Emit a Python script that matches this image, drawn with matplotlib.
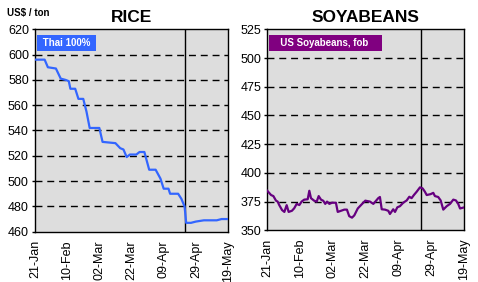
import matplotlib
matplotlib.use("Agg")
import matplotlib.pyplot as plt

plt.rcParams['font.family'] = ['Liberation Sans', 'DejaVu Sans']

tick_labels = ["21-Jan", "10-Feb", "02-Mar", "22-Mar", "09-Apr", "29-Apr", "19-May"]
tick_days = [0, 20, 40, 60, 80, 100, 120]
marker_day = 93.5

rice_day = [0, 6, 8, 13, 16, 19, 21, 22, 25, 27, 30, 32, 34, 40, 42, 50, 53, 55, 57, 59,
            63, 65, 68, 71, 75, 78, 80, 83, 84, 89, 91, 93, 94, 97, 100, 105, 110, 113, 116, 120]
rice_price = [596, 596, 590, 589, 581, 580, 579, 573, 573, 565, 565, 555, 542, 542, 531, 530, 526, 525, 519, 521,
              521, 523, 523, 509, 509, 502, 494, 494, 490, 490, 486, 480, 467, 467, 468, 469, 469, 469, 470, 470]

soy_day = [0, 2.3, 3.7, 5.3, 6.3, 7.3, 9, 10.4, 11.8, 13, 15, 16.4, 17.9, 19.5, 20.9, 22.5, 24.6, 25.6, 26.6, 28.6,
           30.1, 31.3, 32.7, 34.1, 35.3, 36.4, 37.8, 39.4, 41.8, 42.9, 44.9, 46.9, 48.5, 49.9, 51.6, 53, 55.1, 57.1,
           59.7, 62.5, 64.6, 67.6, 68.6, 69.7, 71.7, 73.7, 74.7, 76.7, 77.8, 79.2, 80.8, 82.8, 84.9, 86.5, 87.9, 89.3,
           91, 93, 94.6, 96, 97.1, 99.5, 101.1, 102.1, 104.1, 105.6, 107.2, 109.3, 111.3, 113.3, 114.9, 116.3, 117.4, 120]
soy_price = [384.4, 380.7, 379.8, 375.8, 375, 371.9, 367.6, 366, 371.9, 366, 367, 369.2, 373, 372, 375, 376.7, 377, 384.4, 378, 375.7,
             375, 379.8, 376.7, 375.7, 373, 375, 373, 374, 374, 366, 367, 368, 368, 362.3, 361, 363, 369, 372,
             375.8, 375, 373, 378, 379, 368.3, 368, 367, 364.2, 368.3, 366, 370, 371, 374, 376, 379.2, 378, 380.7,
             383.6, 387.4, 386.5, 383.6, 380.7, 381.5, 382.6, 379.8, 379, 376, 368, 371, 373, 376.7, 376, 373, 369, 370]

rice_ticks = [460, 480, 500, 520, 540, 560, 580, 600, 620]
soy_ticks = [350, 375, 400, 425, 450, 475, 500, 525]

W, H = 478, 282
fig = plt.figure(figsize=(W / 100, H / 100), dpi=100)
fig.patch.set_facecolor('white')

bg = '#DDDDDD'

def setup(ax, yticks, title, label, lcolor, boxcolor, xdata, ydata):
    ax.set_facecolor(bg)
    ax.set_xlim(0, 120)
    ax.set_ylim(yticks[0], yticks[-1])
    ax.set_yticks(yticks)
    ax.set_xticks(tick_days)
    ax.set_xticklabels(tick_labels, rotation=90, fontsize=9)
    ax.tick_params(axis='y', labelsize=9, length=2.2, width=1.0, direction='out', pad=2.2)
    ax.tick_params(axis='x', length=0, pad=6)
    for y in yticks[1:-1]:
        ax.axhline(y, color='black', lw=1.0, linestyle=(0, (5, 3.5)), zorder=1)
    ax.axvline(marker_day, color='black', lw=1.0, zorder=2)
    ax.plot(xdata, ydata, color=lcolor, lw=1.6, zorder=3)
    for s in ax.spines.values():
        s.set_color('black')
        s.set_linewidth(1.0)
    ax.set_title(title, fontsize=12.5, fontweight='bold', pad=5)
    ax.text(0.025, 0.955, label, transform=ax.transAxes, fontsize=7, fontweight='bold',
            color='white', va='top', ha='left',
            bbox=dict(boxstyle='square,pad=0.3', facecolor=boxcolor, edgecolor='none'), zorder=5)

ax1 = fig.add_axes([35 / W, (H - 231.7) / H, 193 / W, 202.4 / H])
setup(ax1, rice_ticks, "RICE", " Thai 100% ", '#3366FF', '#3366FF', rice_day, rice_price)

ax2 = fig.add_axes([267.3 / W, (H - 230.3) / H, 197 / W, 201 / H])
setup(ax2, soy_ticks, "SOYABEANS", "   US Soyabeans, fob    ", '#660080', '#800080', soy_day, soy_price)

fig.text(7 / W, 1 - 13 / H, "US$ / ton", fontsize=7, fontweight='bold', va='center', ha='left')

fig.savefig("out.png", dpi=100)
